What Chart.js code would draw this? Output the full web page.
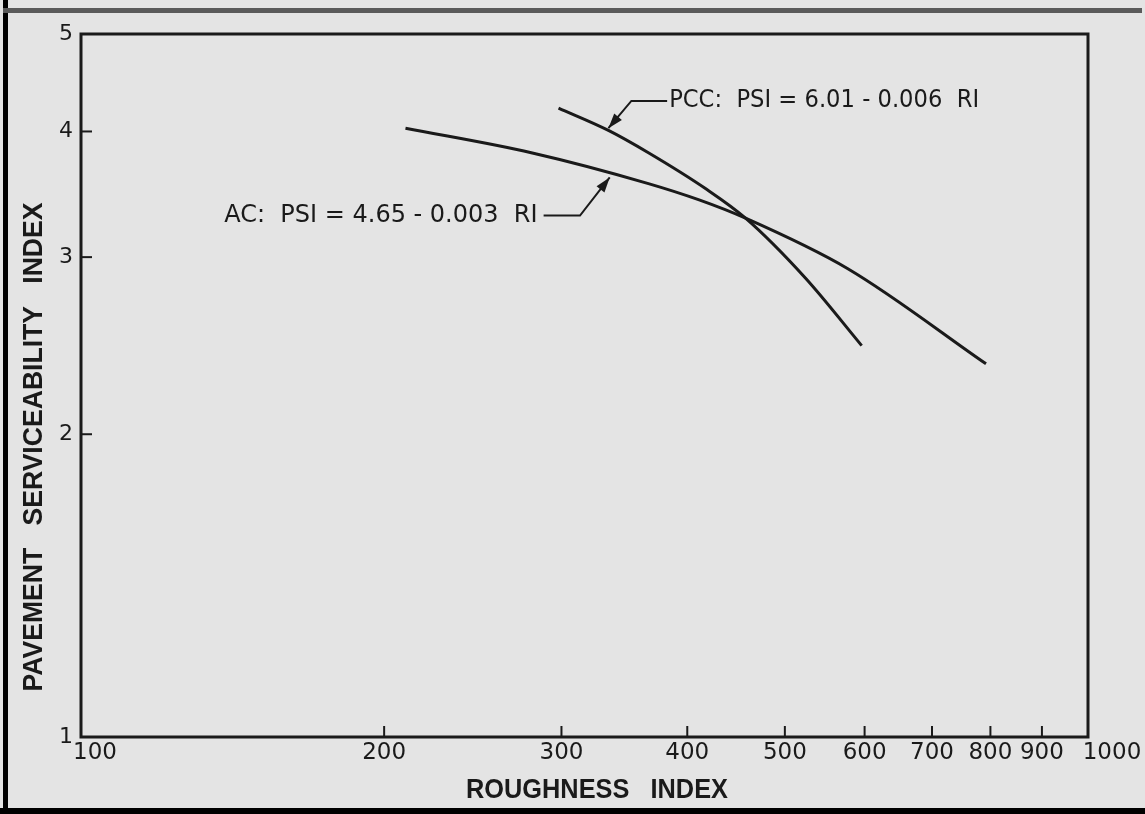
<!DOCTYPE html>
<html>
<head>
<meta charset="utf-8">
<script src="https://cdn.jsdelivr.net/npm/chart.js@4.4.1/dist/chart.umd.min.js"></script>
<style>
  html, body { margin: 0; padding: 0; background: #e4e4e4; }
  #wrap { width: 1145px; height: 814px; }
</style>
</head>
<body>
<div id="wrap"><canvas id="psiChart" width="1145" height="814"></canvas></div>
<script>
// values (RI, PSI)
const acRI  = [210, 280, 366, 411, 457, 578, 792];
const acPSI = [4.03, 3.81, 3.55, 3.42, 3.28, 2.92, 2.35];
const pccRI  = [298, 334, 366, 417, 457, 524, 596];
const pccPSI = [4.22, 4.01, 3.81, 3.51, 3.28, 2.86, 2.45];

const xTickValues = [100, 200, 300, 400, 500, 600, 700, 800, 900, 1000];
const yTickValues = [1, 2, 3, 4, 5];

// annotation labels, anchored in data units
const notes = [
  { text: "PCC:  PSI = 6.01 - 0.006  RI", textAt: [382, 4.29], align: "left", width: 310,
    leader: [[382, 4.29], [352, 4.29], [334, 4.03]] },
  { text: "AC:  PSI = 4.65 - 0.003  RI", textAt: [286, 3.30], align: "right", width: 315,
    leader: [[288, 3.30], [313, 3.30], [335, 3.60]] }
];

const ink = "#1a1a1a";
const toXY = (ri, psi) => ri.map((v, i) => ({ x: v, y: psi[i] }));

const paperPlugin = {
  id: "paper",
  beforeDraw(chart) {
    const ctx = chart.ctx;
    ctx.save();
    ctx.fillStyle = "#e4e4e4";
    ctx.fillRect(0, 0, chart.width, chart.height);
    // scan edges
    ctx.fillStyle = "#000";
    ctx.fillRect(3, 0, 5, chart.height);
    ctx.fillRect(0, 808, chart.width, 6);
    ctx.fillStyle = "#5a5a5a";
    ctx.fillRect(3, 8, chart.width - 6, 5);
    ctx.restore();
  },
  afterDatasetsDraw(chart) {
    const { ctx, chartArea: a, scales: { x, y } } = chart;
    ctx.save();
    ctx.strokeStyle = ink;
    ctx.lineWidth = 3;
    ctx.strokeRect(a.left, a.top, a.right - a.left, a.bottom - a.top);

    // inward tick marks
    ctx.lineWidth = 2;
    xTickValues.slice(1, -1).forEach(v => {
      const px = x.getPixelForValue(v);
      ctx.beginPath(); ctx.moveTo(px, a.bottom); ctx.lineTo(px, a.bottom - 11); ctx.stroke();
    });
    yTickValues.slice(1, -1).forEach(v => {
      const py = y.getPixelForValue(v);
      ctx.beginPath(); ctx.moveTo(a.left, py); ctx.lineTo(a.left + 11, py); ctx.stroke();
    });

    // x tick labels (end labels sit a little to the right, as in the original)
    ctx.fillStyle = ink;
    ctx.font = "23px 'DejaVu Sans'";
    ctx.textAlign = "center";
    ctx.textBaseline = "middle";
    xTickValues.forEach((v, i) => {
      const shift = i === 0 ? 14 : (i === xTickValues.length - 1 ? 24 : 0);
      ctx.fillText(String(v), x.getPixelForValue(v) + shift, a.bottom + 16);
    });

    // equation labels with leader arrows
    ctx.font = "500 24px 'DejaVu Sans'";
    notes.forEach(n => {
      ctx.textAlign = n.align;
      const tx = x.getPixelForValue(n.textAt[0]) + (n.align === "left" ? 2 : -3);
      ctx.fillText(n.text, tx, y.getPixelForValue(n.textAt[1]), n.width);
      const pts = n.leader.map(p => [x.getPixelForValue(p[0]), y.getPixelForValue(p[1])]);
      ctx.lineWidth = 2;
      ctx.beginPath();
      pts.forEach((p, i) => i ? ctx.lineTo(p[0], p[1]) : ctx.moveTo(p[0], p[1]));
      ctx.stroke();
      const tip = pts[pts.length - 1], prev = pts[pts.length - 2];
      const ang = Math.atan2(tip[1] - prev[1], tip[0] - prev[0]);
      ctx.beginPath();
      ctx.moveTo(tip[0], tip[1]);
      ctx.lineTo(tip[0] - 15 * Math.cos(ang) + 5 * Math.sin(ang), tip[1] - 15 * Math.sin(ang) - 5 * Math.cos(ang));
      ctx.lineTo(tip[0] - 15 * Math.cos(ang) - 5 * Math.sin(ang), tip[1] - 15 * Math.sin(ang) + 5 * Math.cos(ang));
      ctx.closePath();
      ctx.fill();
    });

    // axis titles
    ctx.font = "600 27px 'Liberation Sans'";
    ctx.textAlign = "center";
    ctx.textBaseline = "alphabetic";
    ctx.fillText("ROUGHNESS   INDEX", 597, 798, 262);
    ctx.translate(42, 447);
    ctx.rotate(-Math.PI / 2);
    ctx.fillText("PAVEMENT   SERVICEABILITY   INDEX", 0, 0, 489);
    ctx.restore();
  }
};

new Chart(document.getElementById("psiChart"), {
  type: "line",
  data: {
    datasets: [
      { label: "AC", data: toXY(acRI, acPSI) },
      { label: "PCC", data: toXY(pccRI, pccPSI) }
    ]
  },
  options: {
    responsive: false,
    animation: false,
    layout: { padding: { top: 34, right: 57, left: 0, bottom: 0 } },
    elements: {
      line: { borderColor: ink, borderWidth: 3, cubicInterpolationMode: "monotone", fill: false },
      point: { radius: 0 }
    },
    plugins: { legend: { display: false }, tooltip: { enabled: false } },
    scales: {
      x: {
        type: "logarithmic", min: 100, max: 1000,
        afterFit: s => { s.height = 77; },
        afterBuildTicks: s => { s.ticks = xTickValues.map(v => ({ value: v })); },
        grid: { display: false }, border: { display: false },
        ticks: { display: false }
      },
      y: {
        type: "logarithmic", min: 1, max: 5,
        afterFit: s => { s.width = 81; },
        afterBuildTicks: s => { s.ticks = yTickValues.map(v => ({ value: v })); },
        grid: { display: false }, border: { display: false },
        ticks: { color: ink, padding: 0,
                 font: { family: "'DejaVu Sans'", size: 22 },
                 callback: v => String(v) }
      }
    }
  },
  plugins: [paperPlugin]
});
</script>
</body>
</html>
